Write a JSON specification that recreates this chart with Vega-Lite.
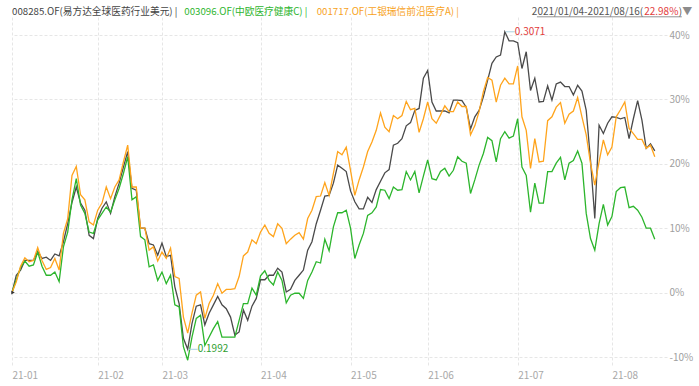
{
  "$schema": "https://vega.github.io/schema/vega-lite/v6.json",
  "width": 655,
  "height": 350,
  "autosize": "none",
  "padding": {"left": 12, "top": 17, "right": 32, "bottom": 19},
  "background": "white",
  "config": {"view": {"stroke": null}, "font": "Noto Sans CJK SC"},
  "datasets": {
    "nav": [
      {"i":0,"f008285":0,"f003096":0,"f001717":0},
      {"i":1,"f008285":2.7,"f003096":2.0,"f001717":1.7},
      {"i":2,"f008285":3.5,"f003096":3.9,"f001717":4.1},
      {"i":3,"f008285":5.0,"f003096":4.9,"f001717":5.4},
      {"i":4,"f008285":5.0,"f003096":4.1,"f001717":4.8},
      {"i":5,"f008285":5.0,"f003096":4.3,"f001717":5.0},
      {"i":6,"f008285":6.4,"f003096":6.3,"f001717":7.0},
      {"i":7,"f008285":5.3,"f003096":4.1,"f001717":5.0},
      {"i":8,"f008285":5.5,"f003096":2.7,"f001717":3.6},
      {"i":9,"f008285":5.0,"f003096":2.7,"f001717":3.9},
      {"i":10,"f008285":6.0,"f003096":3.2,"f001717":5.3},
      {"i":11,"f008285":5.7,"f003096":1.7,"f001717":3.5},
      {"i":12,"f008285":7.9,"f003096":7.1,"f001717":9.2},
      {"i":13,"f008285":10.7,"f003096":9.4,"f001717":11.5},
      {"i":14,"f008285":14.0,"f003096":14.4,"f001717":18.2},
      {"i":15,"f008285":16.4,"f003096":17.7,"f001717":19.6},
      {"i":16,"f008285":13.9,"f003096":13.6,"f001717":15.2},
      {"i":17,"f008285":12.8,"f003096":12.3,"f001717":14.4},
      {"i":18,"f008285":8.9,"f003096":9.4,"f001717":11.0},
      {"i":19,"f008285":8.4,"f003096":9.2,"f001717":10.5},
      {"i":20,"f008285":11.5,"f003096":11.3,"f001717":12.8},
      {"i":21,"f008285":13.1,"f003096":12.3,"f001717":13.9},
      {"i":22,"f008285":14.1,"f003096":13.3,"f001717":16.4},
      {"i":23,"f008285":12.3,"f003096":12.5,"f001717":14.6},
      {"i":24,"f008285":14.9,"f003096":14.4,"f001717":16.4},
      {"i":25,"f008285":17.0,"f003096":16.2,"f001717":17.5},
      {"i":26,"f008285":19.5,"f003096":18.5,"f001717":20.3},
      {"i":27,"f008285":21.9,"f003096":21.1,"f001717":22.9},
      {"i":28,"f008285":16.2,"f003096":14.4,"f001717":16.4},
      {"i":29,"f008285":15.9,"f003096":14.9,"f001717":16.4},
      {"i":30,"f008285":10.0,"f003096":8.7,"f001717":10.0},
      {"i":31,"f008285":10.0,"f003096":8.2,"f001717":10.0},
      {"i":32,"f008285":7.6,"f003096":4.0,"f001717":6.6},
      {"i":33,"f008285":7.4,"f003096":4.3,"f001717":7.1},
      {"i":34,"f008285":5.8,"f003096":1.9,"f001717":4.9},
      {"i":35,"f008285":7.7,"f003096":3.2,"f001717":6.3},
      {"i":36,"f008285":5.6,"f003096":1.4,"f001717":5.3},
      {"i":37,"f008285":5.8,"f003096":2.7,"f001717":6.9},
      {"i":38,"f008285":0.9,"f003096":-1.9,"f001717":2.5},
      {"i":39,"f008285":-1.7,"f003096":-2.2,"f001717":2.2},
      {"i":40,"f008285":-7.1,"f003096":-8.4,"f001717":-3.8},
      {"i":41,"f008285":-8.8,"f003096":-10.5,"f001717":-6.3},
      {"i":42,"f008285":-4.8,"f003096":-6.9,"f001717":-3.2},
      {"i":43,"f008285":-2.1,"f003096":-4.0,"f001717":-0.4},
      {"i":44,"f008285":-1.9,"f003096":-3.5,"f001717":0.1},
      {"i":45,"f008285":-5.0,"f003096":-8.2,"f001717":-4.0},
      {"i":46,"f008285":-3.2,"f003096":-6.9,"f001717":-1.7},
      {"i":47,"f008285":-1.9,"f003096":-5.6,"f001717":-0.4},
      {"i":48,"f008285":-0.6,"f003096":-4.5,"f001717":1.4},
      {"i":49,"f008285":-1.9,"f003096":-6.9,"f001717":-0.1},
      {"i":50,"f008285":-2.5,"f003096":-6.9,"f001717":0.5},
      {"i":51,"f008285":-3.8,"f003096":-6.9,"f001717":0.5},
      {"i":52,"f008285":-6.6,"f003096":-6.9,"f001717":0.6},
      {"i":53,"f008285":-6.1,"f003096":-4.3,"f001717":2.5},
      {"i":54,"f008285":-2.7,"f003096":-1.7,"f001717":5.7},
      {"i":55,"f008285":-4.3,"f003096":-1.7,"f001717":6.3},
      {"i":56,"f008285":-2.1,"f003096":0.7,"f001717":8.2},
      {"i":57,"f008285":-0.9,"f003096":-0.4,"f001717":7.6},
      {"i":58,"f008285":2.0,"f003096":2.6,"f001717":9.4},
      {"i":59,"f008285":2.0,"f003096":3.4,"f001717":10.5},
      {"i":60,"f008285":2.7,"f003096":1.9,"f001717":9.2},
      {"i":61,"f008285":2.7,"f003096":1.2,"f001717":8.7},
      {"i":62,"f008285":3.8,"f003096":3.2,"f001717":10.7},
      {"i":63,"f008285":3.2,"f003096":1.9,"f001717":10.0},
      {"i":64,"f008285":0.1,"f003096":-1.6,"f001717":7.6},
      {"i":65,"f008285":0.5,"f003096":-0.4,"f001717":8.3},
      {"i":66,"f008285":1.9,"f003096":-0.1,"f001717":8.9},
      {"i":67,"f008285":2.7,"f003096":-0.1,"f001717":9.3},
      {"i":68,"f008285":3.5,"f003096":-0.9,"f001717":8.3},
      {"i":69,"f008285":6.6,"f003096":1.9,"f001717":11.5},
      {"i":70,"f008285":7.9,"f003096":3.2,"f001717":12.8},
      {"i":71,"f008285":10.7,"f003096":4.8,"f001717":14.9},
      {"i":72,"f008285":12.8,"f003096":4.6,"f001717":15.0},
      {"i":73,"f008285":15.0,"f003096":8.3,"f001717":17.1},
      {"i":74,"f008285":15.1,"f003096":6.5,"f001717":15.1},
      {"i":75,"f008285":17.0,"f003096":10.2,"f001717":18.5},
      {"i":76,"f008285":19.8,"f003096":12.4,"f001717":21.9},
      {"i":77,"f008285":19.3,"f003096":12.4,"f001717":21.4},
      {"i":78,"f008285":18.8,"f003096":12.8,"f001717":22.6},
      {"i":79,"f008285":15.8,"f003096":10.0,"f001717":19.0},
      {"i":80,"f008285":14.1,"f003096":5.3,"f001717":15.1},
      {"i":81,"f008285":13.0,"f003096":7.4,"f001717":17.5},
      {"i":82,"f008285":13.0,"f003096":9.2,"f001717":19.5},
      {"i":83,"f008285":14.8,"f003096":12.0,"f001717":21.9},
      {"i":84,"f008285":14.0,"f003096":12.4,"f001717":23.4},
      {"i":85,"f008285":16.0,"f003096":13.3,"f001717":25.2},
      {"i":86,"f008285":17.3,"f003096":16.0,"f001717":27.9},
      {"i":87,"f008285":18.6,"f003096":15.9,"f001717":25.7},
      {"i":88,"f008285":19.1,"f003096":14.6,"f001717":25.0},
      {"i":89,"f008285":22.9,"f003096":16.4,"f001717":27.5},
      {"i":90,"f008285":23.2,"f003096":15.9,"f001717":27.0},
      {"i":91,"f008285":23.9,"f003096":16.0,"f001717":27.5},
      {"i":92,"f008285":25.9,"f003096":18.8,"f001717":29.7},
      {"i":93,"f008285":26.4,"f003096":17.5,"f001717":28.4},
      {"i":94,"f008285":28.3,"f003096":18.8,"f001717":28.6},
      {"i":95,"f008285":28.6,"f003096":15.5,"f001717":24.9},
      {"i":96,"f008285":33.3,"f003096":18.1,"f001717":27.0},
      {"i":97,"f008285":34.5,"f003096":20.6,"f001717":29.6},
      {"i":98,"f008285":29.6,"f003096":17.7,"f001717":27.0},
      {"i":99,"f008285":28.2,"f003096":17.5,"f001717":26.3},
      {"i":100,"f008285":28.2,"f003096":18.8,"f001717":27.6},
      {"i":101,"f008285":28.2,"f003096":19.3,"f001717":29.0},
      {"i":102,"f008285":27.9,"f003096":18.1,"f001717":28.1},
      {"i":103,"f008285":29.9,"f003096":19.0,"f001717":28.1},
      {"i":104,"f008285":29.9,"f003096":21.1,"f001717":29.6},
      {"i":105,"f008285":29.8,"f003096":20.4,"f001717":28.9},
      {"i":106,"f008285":28.8,"f003096":20.1,"f001717":28.9},
      {"i":107,"f008285":25.4,"f003096":15.4,"f001717":24.5},
      {"i":108,"f008285":27.3,"f003096":17.5,"f001717":25.9},
      {"i":109,"f008285":28.3,"f003096":19.8,"f001717":28.1},
      {"i":110,"f008285":30.4,"f003096":21.6,"f001717":31.2},
      {"i":111,"f008285":33.0,"f003096":24.1,"f001717":33.4},
      {"i":112,"f008285":35.6,"f003096":23.6,"f001717":33.0},
      {"i":113,"f008285":36.6,"f003096":20.3,"f001717":29.6},
      {"i":114,"f008285":36.9,"f003096":23.9,"f001717":32.2},
      {"i":115,"f008285":40.5,"f003096":25.0,"f001717":33.3},
      {"i":116,"f008285":39.1,"f003096":24.0,"f001717":32.4},
      {"i":117,"f008285":39.1,"f003096":24.3,"f001717":32.4},
      {"i":118,"f008285":38.8,"f003096":27.0,"f001717":35.2},
      {"i":119,"f008285":34.8,"f003096":19.5,"f001717":27.3},
      {"i":120,"f008285":37.4,"f003096":18.2,"f001717":25.2},
      {"i":121,"f008285":31.4,"f003096":12.5,"f001717":19.3},
      {"i":122,"f008285":33.3,"f003096":17.0,"f001717":23.9},
      {"i":123,"f008285":29.6,"f003096":13.9,"f001717":20.3},
      {"i":124,"f008285":29.7,"f003096":13.9,"f001717":20.4},
      {"i":125,"f008285":32.1,"f003096":18.8,"f001717":26.7},
      {"i":126,"f008285":29.9,"f003096":18.8,"f001717":27.3},
      {"i":127,"f008285":32.4,"f003096":20.1,"f001717":28.8},
      {"i":128,"f008285":32.7,"f003096":21.0,"f001717":29.5},
      {"i":129,"f008285":32.0,"f003096":17.5,"f001717":26.3},
      {"i":130,"f008285":32.0,"f003096":20.1,"f001717":27.7},
      {"i":131,"f008285":30.7,"f003096":20.5,"f001717":28.2},
      {"i":132,"f008285":32.2,"f003096":22.0,"f001717":30.3},
      {"i":133,"f008285":31.3,"f003096":20.1,"f001717":27.3},
      {"i":134,"f008285":28.3,"f003096":12.3,"f001717":24.5},
      {"i":135,"f008285":20.6,"f003096":8.4,"f001717":20.1},
      {"i":136,"f008285":11.5,"f003096":6.6,"f001717":16.7},
      {"i":137,"f008285":26.0,"f003096":10.7,"f001717":20.3},
      {"i":138,"f008285":24.7,"f003096":13.7,"f001717":23.7},
      {"i":139,"f008285":26.3,"f003096":10.5,"f001717":21.4},
      {"i":140,"f008285":27.3,"f003096":11.8,"f001717":22.6},
      {"i":141,"f008285":27.2,"f003096":15.7,"f001717":27.3},
      {"i":142,"f008285":27.0,"f003096":16.3,"f001717":28.4},
      {"i":143,"f008285":27.2,"f003096":16.4,"f001717":29.6},
      {"i":144,"f008285":23.9,"f003096":13.2,"f001717":25.5},
      {"i":145,"f008285":27.0,"f003096":13.4,"f001717":24.7},
      {"i":146,"f008285":29.8,"f003096":12.8,"f001717":23.8},
      {"i":147,"f008285":26.8,"f003096":11.7,"f001717":23.8},
      {"i":148,"f008285":22.4,"f003096":10.0,"f001717":22.4},
      {"i":149,"f008285":23.1,"f003096":10.0,"f001717":22.9},
      {"i":150,"f008285":22.0,"f003096":8.3,"f001717":21.1}
    ],
    "notes": [
      {"i":115,"v":40.5,"t":"0.3071","k":"max"},
      {"i":41,"v":-8.8,"t":"0.1992","k":"min"}
    ],
    "start": [
      {"i":0,"v":0}
    ]
  },
  "layer": [
    {
      "data": {"name": "nav"},
      "transform": [{"fold": ["f008285", "f003096", "f001717"], "as": ["fund", "ret"]}],
      "mark": {"type": "line", "strokeWidth": 1.3, "clip": true},
      "encoding": {
        "x": {
          "field": "i", "type": "quantitative",
          "scale": {"domain": [0, 152.85], "nice": false, "zero": false},
          "axis": {
            "values": [0, 20, 35, 58, 79, 97, 118, 140],
            "labelExpr": "['21-01','21-02','21-03','21-04','21-05','21-06','21-07','21-08'][indexof([0,20,35,58,79,97,118,140], datum.value)]",
            "grid": true, "gridColor": "#e6e6e6", "gridDash": [3, 2],
            "domain": false, "ticks": false,
            "labelAlign": "left", "labelColor": "#a8a8a8", "labelFontSize": 10,
            "labelPadding": 3, "labelBaseline": "top", "title": null, "labelFlush": false
          }
        },
        "y": {
          "field": "ret", "type": "quantitative",
          "scale": {"domain": [-11.55, 42.8], "nice": false, "zero": false},
          "axis": {
            "orient": "right",
            "values": [-10, -5, 0, 5, 10, 15, 20, 25, 30, 35, 40],
            "labelExpr": "datum.value + '%'",
            "grid": true, "gridColor": "#e6e6e6", "gridDash": [3, 2],
            "domain": false, "ticks": false,
            "labelColor": "#a0a0a0", "labelFontSize": 10, "labelPadding": 2,
            "title": null, "labelFlush": false
          }
        },
        "color": {
          "field": "fund", "type": "nominal",
          "scale": {"domain": ["f008285", "f003096", "f001717"], "range": ["#4a4a4a", "#2cb52c", "#ffa41c"]},
          "legend": null
        }
      }
    },
    {
      "data": {"name": "start"},
      "mark": {"type": "point", "shape": "triangle-right", "filled": true, "size": 16, "color": "#333333", "opacity": 1, "xOffset": 1},
      "encoding": {
        "x": {"field": "i", "type": "quantitative"},
        "y": {"field": "v", "type": "quantitative"}
      }
    },
    {
      "data": {"name": "notes"},
      "mark": {"type": "rule", "stroke": "#a9d2e2", "strokeWidth": 1, "xOffset": 1, "x2Offset": 10},
      "encoding": {
        "x": {"field": "i", "type": "quantitative"},
        "x2": {"field": "i"},
        "y": {"field": "v", "type": "quantitative"}
      }
    },
    {
      "data": {"name": "notes"},
      "mark": {"type": "text", "align": "left", "baseline": "middle", "dx": 10, "fontSize": 10},
      "encoding": {
        "x": {"field": "i", "type": "quantitative"},
        "y": {"field": "v", "type": "quantitative"},
        "text": {"field": "t"},
        "fill": {"condition": {"test": "datum.k == 'max'", "value": "#e23c3c"}, "value": "#2f9e2f"}
      }
    },
    {
      "data": {"values": [{}]},
      "mark": {"type": "text", "align": "left", "baseline": "middle", "fontSize": 9.7, "fill": "#444444", "clip": false},
      "encoding": {
        "x": {"datum": 0, "type": "quantitative"},
        "y": {"datum": 43.6, "type": "quantitative"},
        "text": {"value": "008285.OF(易方达全球医药行业美元) |"}
      }
    },
    {
      "data": {"values": [{}]},
      "mark": {"type": "text", "align": "left", "baseline": "middle", "fontSize": 9.7, "fill": "#2eb52e", "clip": false},
      "encoding": {
        "x": {"datum": 40.2, "type": "quantitative"},
        "y": {"datum": 43.6, "type": "quantitative"},
        "text": {"value": "003096.OF(中欧医疗健康C) |"}
      }
    },
    {
      "data": {"values": [{}]},
      "mark": {"type": "text", "align": "left", "baseline": "middle", "fontSize": 9.7, "fill": "#f7a21b", "clip": false},
      "encoding": {
        "x": {"datum": 71.1, "type": "quantitative"},
        "y": {"datum": 43.6, "type": "quantitative"},
        "text": {"value": "001717.OF(工银瑞信前沿医疗A) |"}
      }
    },
    {
      "data": {"values": [{}]},
      "mark": {"type": "text", "align": "right", "baseline": "middle", "fontSize": 10, "fill": "#555555", "clip": false},
      "encoding": {
        "x": {"datum": 147.3, "type": "quantitative"},
        "y": {"datum": 43.6, "type": "quantitative"},
        "text": {"value": "2021/01/04-2021/08/16("}
      }
    },
    {
      "data": {"values": [{}]},
      "mark": {"type": "text", "align": "right", "baseline": "middle", "fontSize": 10, "fill": "#e23c3c", "clip": false},
      "encoding": {
        "x": {"datum": 155.5, "type": "quantitative"},
        "y": {"datum": 43.6, "type": "quantitative"},
        "text": {"value": "22.98%"}
      }
    },
    {
      "data": {"values": [{}]},
      "mark": {"type": "text", "align": "right", "baseline": "middle", "fontSize": 10, "fill": "#555555", "clip": false},
      "encoding": {
        "x": {"datum": 156.4, "type": "quantitative"},
        "y": {"datum": 43.6, "type": "quantitative"},
        "text": {"value": ")"}
      }
    },
    {
      "data": {"values": [{}]},
      "mark": {"type": "text", "align": "center", "baseline": "middle", "fontSize": 10, "fill": "#8c8c8c", "clip": false},
      "encoding": {
        "x": {"datum": 157.6, "type": "quantitative"},
        "y": {"datum": 43.65, "type": "quantitative"},
        "text": {"value": "▼"}
      }
    },
    {
      "data": {"values": [{}]},
      "mark": {"type": "rule", "stroke": "#777777", "strokeWidth": 0.8, "clip": false},
      "encoding": {
        "x": {"datum": 122.5, "type": "quantitative"},
        "x2": {"datum": 156.3},
        "y": {"datum": 42.83, "type": "quantitative"}
      }
    }
  ]
}
